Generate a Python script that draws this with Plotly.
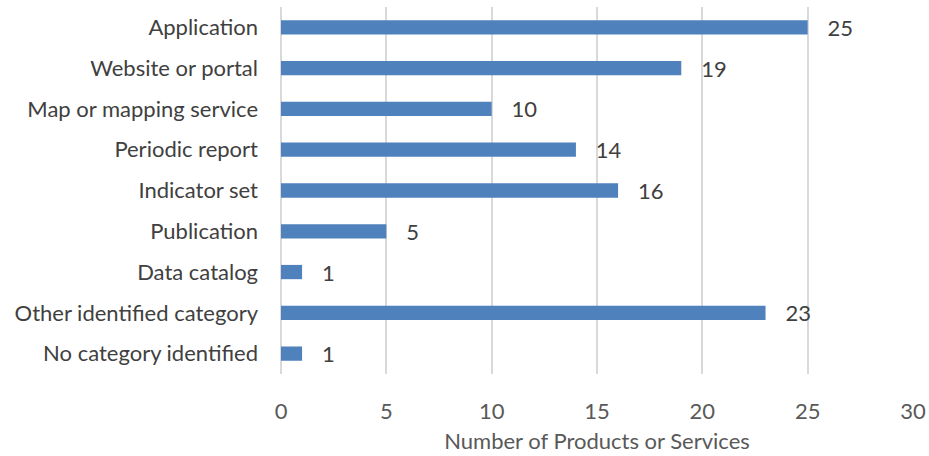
import plotly.graph_objects as go

categories = ["Application", "Website or portal", "Map or mapping service", "Periodic report",
              "Indicator set", "Publication", "Data catalog", "Other identified category",
              "No category identified"]
values = [25, 19, 10, 14, 16, 5, 1, 23, 1]
x_ticks = [0, 5, 10, 15, 20, 25, 30]

FS = 22
fig = go.Figure(go.Bar(
    x=values, y=categories, orientation="h",
    marker=dict(color="#4F81BD", line=dict(width=0)),
    text=values, texttemplate="   %{x}", textposition="outside",
    constraintext="none",
    textfont=dict(family="Lato", size=FS, color="#404040"),
    cliponaxis=False,
))

fig.update_layout(
    width=929, height=456,
    margin=dict(l=281, r=16, t=7, b=82),
    paper_bgcolor="white", plot_bgcolor="white",
    bargap=0.65,
    showlegend=False,
    font=dict(family="Lato", size=FS, color="#595959"),
)
fig.update_yaxes(
    categoryorder="array", categoryarray=categories, autorange="reversed",
    showgrid=False, showline=False, zeroline=False, automargin=False,
    ticks="", ticklabelstandoff=22,
    tickfont=dict(family="Lato", size=FS, color="#404040"),
)
fig.update_xaxes(
    range=[0, 30], tickvals=x_ticks, showgrid=True, gridcolor="#D9D9D9", gridwidth=2,
    zeroline=True, zerolinecolor="#D9D9D9", zerolinewidth=2, showline=False,
    automargin=False,
    ticks="", ticklabelstandoff=22,
    tickfont=dict(family="Lato", size=FS, color="#595959"),
    title=dict(text="Number of Products or Services", standoff=10,
               font=dict(family="Lato", size=FS, color="#595959")),
)

fig.write_html("out.html")
